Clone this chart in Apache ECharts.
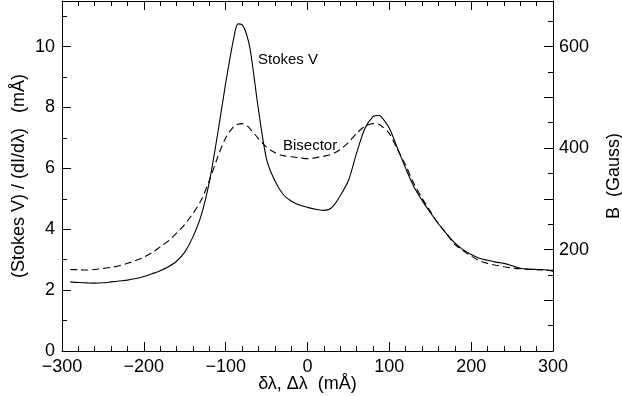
<!DOCTYPE html>
<html>
<head>
<meta charset="utf-8">
<script src="https://cdn.jsdelivr.net/npm/echarts@6/dist/echarts.min.js"></script>
<style>
  html, body { margin: 0; padding: 0; background: #fff; }
  #chart { width: 622px; height: 396px; }
</style>
</head>
<body>
<div id="chart"></div>
<script>
// wavelength offset, mÅ
const lambda = [
  -290, -280, -270, -260, -250, -240, -230, -220, -210, -200,
  -190, -180, -170, -160, -150, -140, -130, -120, -110, -100,
  -90, -85, -80, -75, -70, -60, -50, -40, -30, -20,
  -10, 0, 10, 20, 30, 40, 50, 60, 70, 80,
  87, 90, 100, 110, 120, 130, 140, 150, 160, 170,
  180, 190, 200, 210, 220, 230, 240, 250, 260, 270,
  280, 290, 300,
];

// Stokes V / (dI/dλ), solid curve
const stokesV = [
  2.27, 2.25, 2.24, 2.23, 2.24, 2.27, 2.30, 2.33, 2.38, 2.45,
  2.54, 2.64, 2.77, 2.95, 3.25, 3.75, 4.45, 5.55, 7.1, 8.8,
  10.3, 10.75, 10.72, 10.45, 9.9, 7.95, 6.3, 5.6, 5.15, 4.93,
  4.8, 4.72, 4.66, 4.62, 4.72, 5.1, 5.6, 6.5, 7.3, 7.7,
  7.74, 7.7, 7.32, 6.66, 6.0, 5.4, 4.95, 4.55, 4.18, 3.85,
  3.55, 3.33, 3.17, 3.05, 2.98, 2.92, 2.88, 2.80, 2.72, 2.69,
  2.68, 2.67, 2.62,
];

// bisector, dashed curve
const bisector = [
  2.68, 2.67, 2.66, 2.68, 2.71, 2.75, 2.80, 2.88, 2.97, 3.08,
  3.23, 3.42, 3.62, 3.87, 4.16, 4.52, 4.95, 5.6, 6.35, 7.0,
  7.38, 7.45, 7.47, 7.42, 7.3, 6.98, 6.7, 6.52, 6.42, 6.38,
  6.35, 6.32, 6.35, 6.4, 6.47, 6.62, 6.85, 7.15, 7.38, 7.47,
  7.45, 7.4, 7.15, 6.62, 6.1, 5.5, 5.02, 4.6, 4.18, 3.85,
  3.5, 3.3, 3.12, 2.97, 2.88, 2.82, 2.77, 2.73, 2.70, 2.68,
  2.67, 2.66, 2.65,
];

const FONT = "Liberation Sans";

const chart = echarts.init(document.getElementById("chart"));

const frameAxis = {
  axisLine: { show: true, onZero: false, lineStyle: { color: "#000", width: 1 } },
  splitLine: { show: false },
};

const option = {
  animation: false,
  backgroundColor: "#fff",
  grid: { left: 62, right: 69, top: 1, bottom: 45, outerBoundsMode: "none", containLabel: false },
  xAxis: [
    {
      ...frameAxis,
      type: "value",
      position: "bottom",
      min: -300,
      max: 300,
      interval: 100,
      name: "δλ, Δλ  (mÅ)",
      nameLocation: "middle",
      nameGap: 24,
      nameMoveOverlap: false,
      nameTextStyle: { fontFamily: FONT, fontSize: 18, color: "#000" },
      axisTick: { inside: true, length: 9, lineStyle: { color: "#000" } },
      minorTick: { show: true, splitNumber: 5, length: 5, lineStyle: { color: "#000" } },
      axisLabel: {
        margin: 7,
        fontFamily: FONT,
        fontSize: 18,
        color: "#000",
        formatter: (v) => String(v).replace("-", "\u2212"),
      },
    },
    {
      ...frameAxis,
      type: "value",
      position: "top",
      min: -300,
      max: 300,
      interval: 100,
      axisTick: { inside: true, length: 9, lineStyle: { color: "#000" } },
      minorTick: { show: true, splitNumber: 5, length: 5, lineStyle: { color: "#000" } },
      axisLabel: { show: false },
    },
  ],
  yAxis: [
    {
      ...frameAxis,
      type: "value",
      position: "left",
      min: 0,
      max: 11.5,
      interval: 2,
      name: "(Stokes V) / (dI/dλ)   (mÅ)",
      nameLocation: "middle",
      nameRotate: 90,
      nameGap: 34,
      nameMoveOverlap: false,
      nameTextStyle: { fontFamily: FONT, fontSize: 18, color: "#000" },
      axisTick: { inside: true, length: 9, lineStyle: { color: "#000" } },
      axisLabel: {
        margin: 7,
        fontFamily: FONT,
        fontSize: 18,
        color: "#000",
        formatter: (v) => (v % 2 === 0 ? String(v) : ""),
      },
    },
    {
      type: "value",
      position: "left",
      min: 0,
      max: 11.5,
      interval: 1,
      axisLine: { show: false, onZero: false },
      splitLine: { show: false },
      axisTick: { show: true, inside: true, length: 5, lineStyle: { color: "#000" } },
      axisLabel: { show: false },
    },
    {
      ...frameAxis,
      type: "value",
      position: "right",
      min: 0,
      max: 690,
      interval: 100,
      name: "B  (Gauss)",
      nameLocation: "middle",
      nameRotate: 90,
      nameGap: 52,
      nameMoveOverlap: false,
      nameTextStyle: { fontFamily: FONT, fontSize: 18, color: "#000" },
      axisTick: { inside: true, length: 9, lineStyle: { color: "#000" } },
      axisLabel: {
        margin: 6,
        fontFamily: FONT,
        fontSize: 18,
        color: "#000",
        formatter: (v) => (v > 0 && v % 200 === 0 ? String(v) : ""),
      },
    },
    {
      type: "value",
      position: "right",
      min: 0,
      max: 690,
      interval: 50,
      axisLine: { show: false, onZero: false },
      splitLine: { show: false },
      axisTick: { show: true, inside: true, length: 5, lineStyle: { color: "#000" } },
      axisLabel: { show: false },
    },
  ],
  graphic: [
    {
      type: "text",
      left: 258,
      top: 52,
      style: { text: "Stokes V", fontFamily: FONT, fontSize: 15, fill: "#000" },
    },
    {
      type: "text",
      left: 283,
      top: 138,
      style: { text: "Bisector", fontFamily: FONT, fontSize: 15, fill: "#000" },
    },
  ],
  series: [
    {
      name: "Stokes V",
      type: "line",
      xAxisIndex: 0,
      yAxisIndex: 0,
      data: lambda.map((x, i) => [x, stokesV[i]]),
      showSymbol: false,
      smooth: 0.3,
      lineStyle: { color: "#000", width: 1.1 },
    },
    {
      name: "Bisector",
      type: "line",
      xAxisIndex: 0,
      yAxisIndex: 0,
      data: lambda.map((x, i) => [x, bisector[i]]),
      showSymbol: false,
      smooth: 0.3,
      lineStyle: { color: "#000", width: 1.1, type: [7, 4] },
    },
  ],
};

chart.setOption(option);
</script>
</body>
</html>
